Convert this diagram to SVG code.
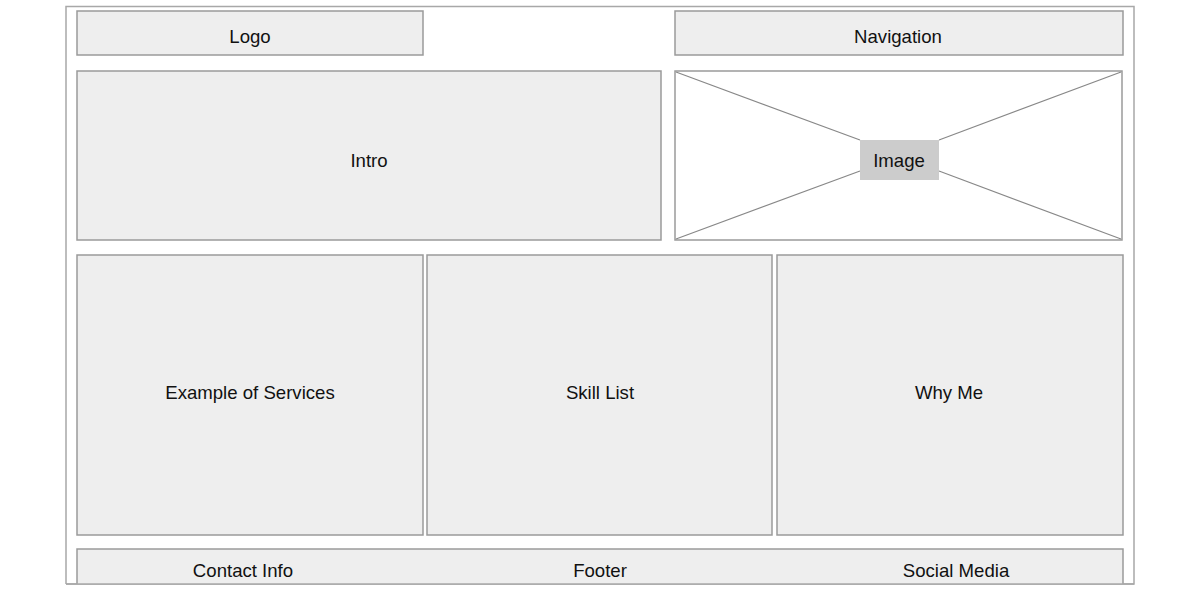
<svg xmlns="http://www.w3.org/2000/svg" width="1200" height="600" viewBox="0 0 1200 600">
<style>
.box{fill:#eeeeee;stroke:#9a9a9a;stroke-width:1.5}
.lbl{font-family:"Liberation Sans",Arial,sans-serif;font-size:18.6px;fill:#111111;text-anchor:middle;dominant-baseline:central}
.ln{stroke:#888;stroke-width:1.2;fill:none}
</style>
<rect width="1200" height="600" fill="#ffffff"/>
<g id="frame"><path d="M66,584 V6.5 H1134 V584 H66" fill="none" stroke="#a8a8a8" stroke-width="1.5"/></g>
<g id="logo"><rect class="box" x="77" y="11" width="346" height="44"/><text class="lbl" x="250" y="36">Logo</text></g>
<g id="navigation"><rect class="box" x="675" y="11" width="448" height="44"/><text class="lbl" x="898" y="36">Navigation</text></g>
<g id="intro"><rect class="box" x="77" y="71" width="584" height="169"/><text class="lbl" x="369" y="160">Intro</text></g>
<g id="image">
<rect x="675" y="71" width="447" height="169" fill="#ffffff" stroke="#9a9a9a" stroke-width="1.5"/>
<g class="ln"><line x1="676" y1="72" x2="860" y2="140"/><line x1="1121" y1="72" x2="939" y2="140"/><line x1="676" y1="239" x2="860" y2="171"/><line x1="1121" y1="239" x2="939" y2="171"/></g>
<rect x="860" y="140" width="79" height="40" fill="#cccccc"/>
<text class="lbl" x="899" y="160">Image</text></g>
<g id="services"><rect class="box" x="77" y="255" width="346" height="280" stroke-width="2"/><text class="lbl" x="250" y="392">Example of Services</text></g>
<g id="skills"><rect class="box" x="427" y="255" width="345" height="280" stroke-width="2"/><text class="lbl" x="600" y="392">Skill List</text></g>
<g id="whyme"><rect class="box" x="777" y="255" width="346" height="280" stroke-width="2"/><text class="lbl" x="949" y="392">Why Me</text></g>
<g id="footer"><path class="box" d="M77,584 V549 H1123 V584"/><line x1="66" y1="584" x2="1134" y2="584" stroke="#a8a8a8" stroke-width="1.5"/>
<text class="lbl" x="243" y="570">Contact Info</text><text class="lbl" x="600" y="570">Footer</text><text class="lbl" x="956" y="570">Social Media</text></g>
<g id="connectors"></g>
</svg>
